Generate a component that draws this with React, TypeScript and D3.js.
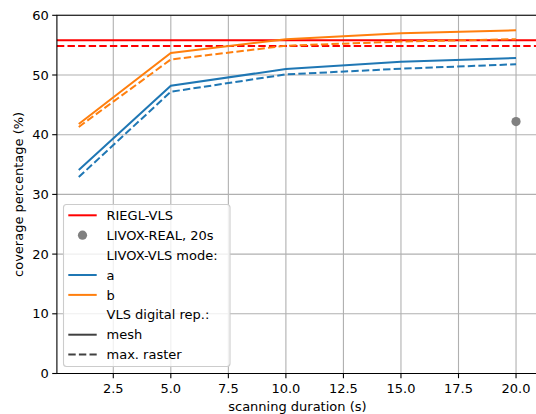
import { useRef, useEffect } from 'react';
import * as d3 from 'd3';

const width = 536;
const height = 414;

// scanning durations (s)
const durations = [1, 5, 10, 15, 20];
// LIVOX-VLS mode a / b, mesh vs max. raster
const modeAMesh = [34.1, 48.2, 51.0, 52.2, 52.85];
const modeARaster = [32.9, 47.2, 50.1, 51.05, 51.8];
const modeBMesh = [41.8, 53.7, 56.0, 57.0, 57.5];
const modeBRaster = [41.3, 52.6, 54.9, 55.6, 56.0];
// reference values
const rieglMesh = 55.8;
const rieglRaster = 54.85;
const livoxRealX = 20;
const livoxRealY = 42.2;

const xTicks = [2.5, 5, 7.5, 10, 12.5, 15, 17.5, 20];
const yTicks = [0, 10, 20, 30, 40, 50, 60];

const FONT = 'DejaVu Sans, sans-serif';
const FS = 13;

const App = () => {
  const ref = useRef<SVGSVGElement>(null);

  useEffect(() => {
    const svg = d3.select(ref.current);
    svg.selectAll('*').remove();

    const left = 56.9, right = 537.9, top = 15.3, bottom = 373.5;
    const x = d3.scaleLinear().domain([0.05, 20.95]).range([left, right]);
    const y = d3.scaleLinear().domain([0, 60]).range([bottom, top]);

    svg.append('rect').attr('width', width).attr('height', height).attr('fill', '#fff');

    // grid
    const grid = svg.append('g').attr('stroke', '#b0b0b0').attr('stroke-width', 1.1);
    xTicks.forEach(t => grid.append('line').attr('x1', x(t)).attr('x2', x(t)).attr('y1', top).attr('y2', bottom));
    yTicks.forEach(t => grid.append('line').attr('x1', left).attr('x2', right).attr('y1', y(t)).attr('y2', y(t)));

    const line = d3.line<number>().x((d, i) => x(durations[i])).y(d => y(d));
    const dash = '7.4,3.2';

    const series = [
      { v: modeAMesh, c: '#1f77b4', dash: null },
      { v: modeARaster, c: '#1f77b4', dash },
      { v: modeBMesh, c: '#ff7f0e', dash: null },
      { v: modeBRaster, c: '#ff7f0e', dash },
    ];

    // riegl horizontal lines
    svg.append('line').attr('x1', left).attr('x2', right).attr('y1', y(rieglMesh)).attr('y2', y(rieglMesh))
      .attr('stroke', '#ff0000').attr('stroke-width', 2);
    svg.append('line').attr('x1', left).attr('x2', right).attr('y1', y(rieglRaster)).attr('y2', y(rieglRaster))
      .attr('stroke', '#ff0000').attr('stroke-width', 2).attr('stroke-dasharray', dash);

    series.forEach(s => {
      svg.append('path').attr('d', line(s.v)).attr('fill', 'none').attr('stroke', s.c)
        .attr('stroke-width', 2).attr('stroke-dasharray', s.dash);
    });

    svg.append('circle').attr('cx', x(livoxRealX)).attr('cy', y(livoxRealY)).attr('r', 4.6).attr('fill', '#808080');

    // spines
    svg.append('path').attr('d', `M${left},${top}H${right}M${left},${top}V${bottom}H${right}`)
      .attr('fill', 'none').attr('stroke', '#000').attr('stroke-width', 1.1).attr('stroke-linecap', 'square');

    // ticks
    const ax = svg.append('g').attr('font-family', FONT).attr('font-size', FS).attr('fill', '#000');
    xTicks.forEach(t => {
      ax.append('line').attr('x1', x(t)).attr('x2', x(t)).attr('y1', bottom).attr('y2', bottom + 4.7).attr('stroke', '#000').attr('stroke-width', 1.1);
      ax.append('text').attr('x', x(t)).attr('y', 393.3).attr('text-anchor', 'middle').text(t.toFixed(1));
    });
    yTicks.forEach(t => {
      ax.append('line').attr('x1', left - 4.7).attr('x2', left).attr('y1', y(t)).attr('y2', y(t)).attr('stroke', '#000').attr('stroke-width', 1.1);
      ax.append('text').attr('x', left - 8).attr('y', y(t)).attr('dy', '0.36em').attr('text-anchor', 'end').text(t);
    });
    ax.append('text').attr('x', (left + right) / 2).attr('y', 410.5).attr('text-anchor', 'middle').text('scanning duration (s)');
    ax.append('text').attr('transform', `translate(22.5,${(top + bottom) / 2}) rotate(-90)`).attr('text-anchor', 'middle').text('coverage percentage (%)');

    // legend
    const lg = svg.append('g').attr('font-family', FONT).attr('font-size', FS);
    lg.append('rect').attr('x', 63.5).attr('y', 204.5).attr('width', 166.5).attr('height', 162).attr('rx', 3)
      .attr('fill', '#fff').attr('fill-opacity', 0.8).attr('stroke', '#cccccc').attr('stroke-width', 1.1);
    const entries = [
      { label: 'RIEGL-VLS', type: 'line', c: '#ff0000', dash: null },
      { label: 'LIVOX-REAL, 20s', type: 'dot', c: '#808080', dash: null },
      { label: 'LIVOX-VLS mode:', type: 'none', c: '', dash: null },
      { label: 'a', type: 'line', c: '#1f77b4', dash: null },
      { label: 'b', type: 'line', c: '#ff7f0e', dash: null },
      { label: 'VLS digital rep.:', type: 'none', c: '', dash: null },
      { label: 'mesh', type: 'line', c: '#404040', dash: null },
      { label: 'max. raster', type: 'line', c: '#404040', dash },
    ];
    entries.forEach((e, i) => {
      const cy = 215.3 + i * 19.9;
      if (e.type === 'line') {
        lg.append('line').attr('x1', 68.3).attr('x2', 96.7).attr('y1', cy).attr('y2', cy)
          .attr('stroke', e.c).attr('stroke-width', 2).attr('stroke-dasharray', e.dash);
      } else if (e.type === 'dot') {
        lg.append('circle').attr('cx', 82.5).attr('cy', cy).attr('r', 4.6).attr('fill', e.c);
      }
      lg.append('text').attr('x', 106.5).attr('y', cy).attr('dy', '0.36em').attr('fill', '#000').text(e.label);
    });
  }, []);

  return <svg ref={ref} width={width} height={height} style={{ position: 'absolute', left: 0, top: 0 }} />;
};

export default App;
